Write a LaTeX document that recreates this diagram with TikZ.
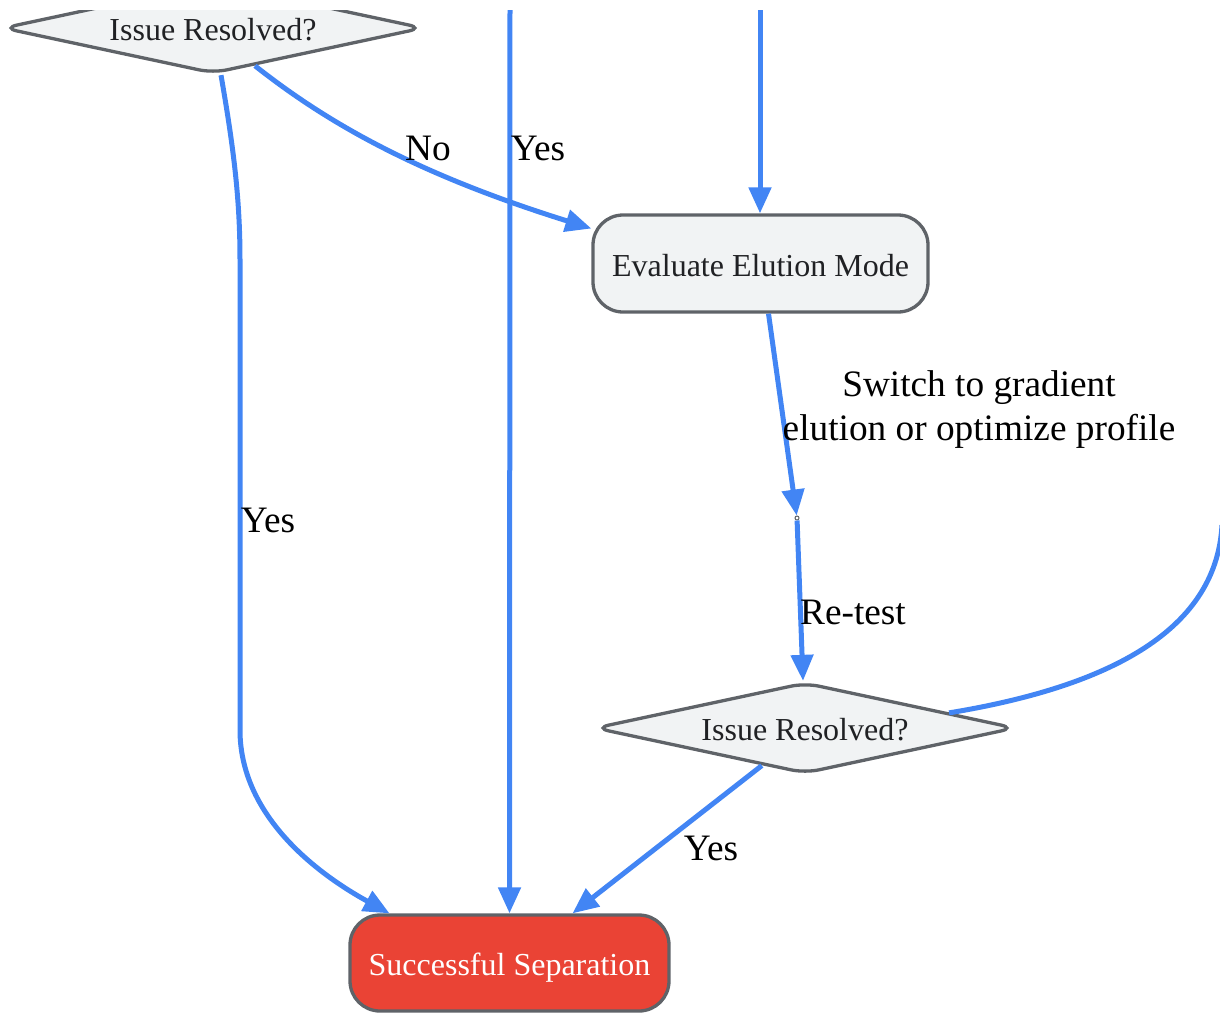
\documentclass[tikz,border=0pt]{standalone}
\usepackage{fontspec}
\setmainfont{Liberation Serif}
\usetikzlibrary{arrows.meta,shapes.geometric}
\definecolor{eblue}{HTML}{4285F4}
\definecolor{bord}{HTML}{5F6368}
\definecolor{nfill}{HTML}{F1F3F4}
\definecolor{ntext}{HTML}{202124}
\definecolor{okred}{HTML}{EA4335}
\begin{document}
\begin{tikzpicture}[x=1pt,y=-1pt,
  dec/.style={diamond, draw=bord, line width=3.3pt, fill=nfill, text=ntext, shape aspect=4.6,
    minimum width=421pt, minimum height=91pt, inner sep=0pt, rounded corners=14pt,
    text height=25pt, text depth=0pt, font=\fontsize{32}{38}\selectfont},
  box/.style={rectangle, draw=bord, line width=3.3pt, fill=nfill, text=ntext, rounded corners=30pt,
    minimum width=335pt, minimum height=97pt, inner sep=0pt,
    text height=25pt, text depth=0pt, font=\fontsize{32}{38}\selectfont},
  flow/.style={draw=eblue, line width=5pt, -{Triangle[length=26pt,width=22pt]}},
  plain/.style={draw=eblue, line width=5pt},
  lbl/.style={font=\fontsize{37.3}{44}\selectfont, text=black, inner sep=0pt}
]
\useasboundingbox (0,0) rectangle (1220,1013);
\begin{scope}
\clip (0,10) rectangle (1220,1013);
% nodes
\node[dec] (d1) at (213,28) {Issue Resolved?};
\node[box] (eval) at (760.5,263.5) {Evaluate Elution Mode};
\node[circle, draw=bord, fill=white, line width=1pt, inner sep=0pt, minimum size=4pt] (p) at (797,518) {};
\node[dec] (d2) at (805,728) {Issue Resolved?};
\node[box, fill=okred, text=white, minimum width=319pt, minimum height=96pt] (succ) at (509.5,963) {Successful Separation};
\coordinate (in1) at (510,0);
\coordinate (in2) at (760,0);
\coordinate (out1) at (1222,525);
% edges
\draw[flow] ([xshift=8pt]d1.south) .. controls (234,150) and (240,200) .. (240,260)
  -- (240,730) .. controls (240,820) and (325,878) .. ([xshift=-120pt]succ.north);
\draw[flow] (d1.-42) .. controls (330,125) and (420,175) .. ([yshift=35pt]eval.west);
\draw[flow] (in1) -- (succ.north);
\draw[flow] (in2) -- ([xshift=-0.5pt]eval.north);
\draw[flow] ([xshift=8pt]eval.south) -- (p);
\draw[flow] (p) -- ([xshift=-2pt]d2.north);
\draw[plain] (d2.6) .. controls (1100,688) and (1216,635) .. (out1);
\draw[flow] (d2.-139) -- ([xshift=63pt]succ.north);
% labels
\node[lbl] at (428,148) {No};
\node[lbl] at (538,148) {Yes};
\node[lbl] at (268,520) {Yes};
\node[lbl, align=center] at (979,410) {Switch to gradient\\elution or optimize profile};
\node[lbl] at (853,612) {Re-test};
\node[lbl] at (711,848) {Yes};
\end{scope}
\end{tikzpicture}
\end{document}
